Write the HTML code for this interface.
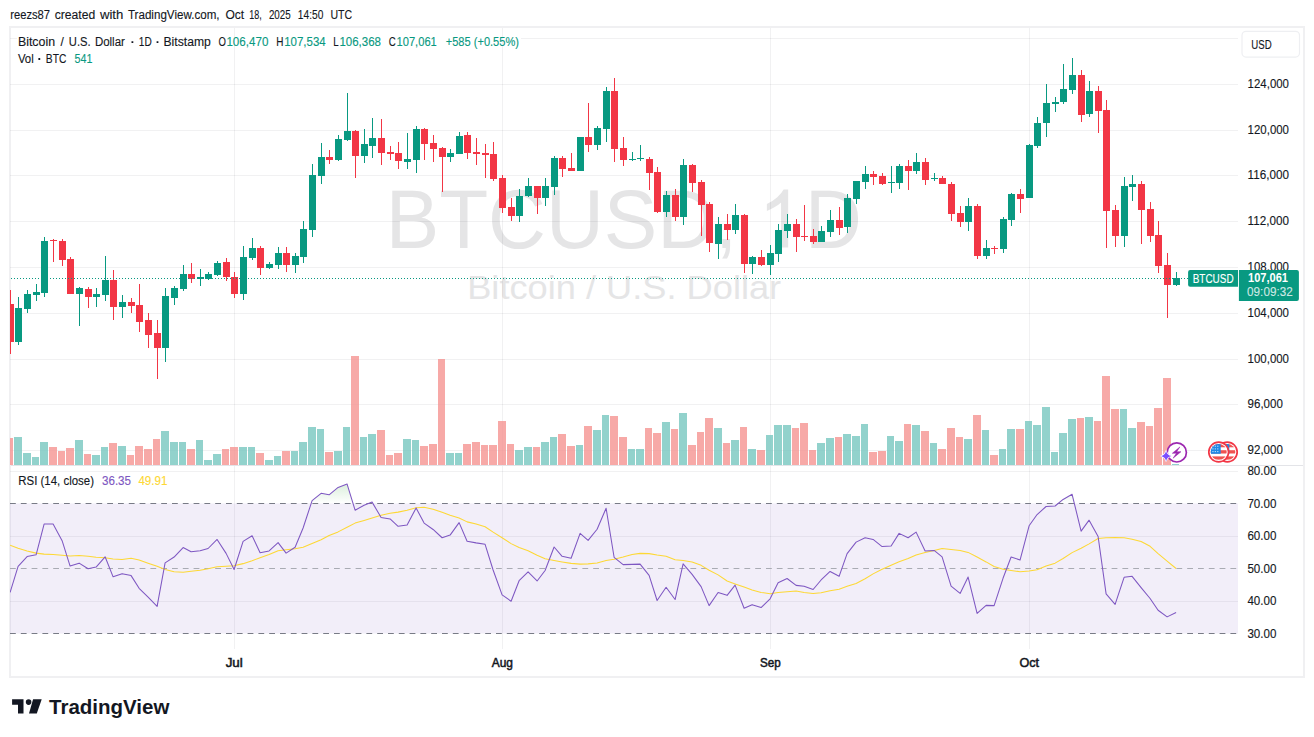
<!DOCTYPE html><html><head><meta charset="utf-8"><title>BTCUSD Chart</title><style>html,body{margin:0;padding:0;background:#fff;width:1314px;height:737px;overflow:hidden}</style></head><body><svg width="1314" height="737" viewBox="0 0 1314 737" style="position:absolute;left:0;top:0;font-family:'Liberation Sans',sans-serif">
<defs><clipPath id="pane"><rect x="10" y="28" width="1228" height="621"/></clipPath>
<clipPath id="ob"><rect x="10" y="465" width="1228" height="38.5"/></clipPath>
<linearGradient id="gob" gradientUnits="userSpaceOnUse" x1="0" y1="406" x2="0" y2="503.5"><stop offset="0" stop-color="#4caf50" stop-opacity="1"/><stop offset="1" stop-color="#4caf50" stop-opacity="0"/></linearGradient>
<clipPath id="fl"><circle cx="0" cy="0" r="8"/></clipPath>
</defs>
<rect width="1314" height="737" fill="#fff"/>
<rect x="10" y="27" width="1294" height="650" fill="none" stroke="#f0f0f2" stroke-width="2"/>
<text x="385.7" y="247.6" font-size="84" fill="#e5e5e6" textLength="351.7" lengthAdjust="spacingAndGlyphs">BTCUSD,</text>
<path transform="translate(758.1 247.6) scale(0.0394 -0.0394)" d="M763 0H583V1147Q518 1085 412.5 1023T223 930V1104Q374 1175 487 1276T647 1472H763z" fill="#e5e5e6"/>
<text x="804.9" y="247.6" font-size="84" fill="#e5e5e6" textLength="56.8" lengthAdjust="spacingAndGlyphs">D</text>
<text x="624.2" y="299.3" text-anchor="middle" font-size="33" fill="#e5e5e6" textLength="314" lengthAdjust="spacingAndGlyphs">Bitcoin / U.S. Dollar</text>
<path d="M10 38.5H17M521 38.5H1238M10 84.5H1238M10 130.5H1238M10 175.5H1238M10 221.5H1238M10 267.5H1238M10 313.5H1238M10 359.5H1238M10 404.5H1238M10 450.5H1238M10 471.5H1238M10 536.5H1238M10 601.5H1238M234.5 28V649M502.5 28V649M770.5 28V649M1029.5 28V649" stroke="rgba(42,46,57,0.065)" stroke-width="1" fill="none"/>
<rect x="10" y="503.5" width="1228" height="130" fill="rgba(126,87,194,0.1)"/>
<path d="M11 465.5H1303" stroke="#e3e4e8" stroke-width="1.1"/>
<g clip-path="url(#pane)">
<path d="M14 465V437H22V465zM23 465V453H31V465zM32 465V457H39V465zM40 465V442H48V465zM75 465V440H83V465zM92 465V455H100V465zM101 465V447H108V465zM118 465V446H126V465zM161 465V431H169V465zM170 465V442H178V465zM179 465V442H186V465zM196 465V440H203V465zM204 465V460H212V465zM213 465V454H221V465zM239 465V447H247V465zM248 465V447H255V465zM265 465V460H273V465zM274 465V456H281V465zM291 465V451H298V465zM299 465V442H307V465zM308 465V427H316V465zM317 465V429H324V465zM334 465V451H342V465zM343 465V427H350V465zM360 465V437H367V465zM368 465V434H376V465zM403 465V439H411V465zM412 465V440H419V465zM446 465V453H454V465zM455 465V453H462V465zM515 465V450H523V465zM524 465V447H532V465zM541 465V442H549V465zM550 465V437H557V465zM576 465V445H583V465zM593 465V430H601V465zM602 465V415H609V465zM628 465V449H635V465zM636 465V449H644V465zM662 465V422H670V465zM679 465V413H687V465zM714 465V428H722V465zM731 465V440H739V465zM748 465V449H756V465zM766 465V435H773V465zM774 465V425H782V465zM783 465V425H791V465zM817 465V443H825V465zM826 465V438H834V465zM843 465V434H851V465zM852 465V436H860V465zM861 465V424H868V465zM887 465V436H894V465zM895 465V441H903V465zM912 465V425H920V465zM930 465V443H937V465zM964 465V439H972V465zM982 465V430H989V465zM999 465V449H1006V465zM1007 465V429H1015V465zM1025 465V421H1032V465zM1033 465V425H1041V465zM1042 465V407H1050V465zM1051 465V452H1058V465zM1059 465V433H1067V465zM1068 465V419H1076V465zM1085 465V417H1093V465zM1120 465V409H1127V465zM1128 465V428H1136V465zM1172 465V464H1179V465z" fill="rgba(119,199,191,0.8)"/>
<path d="M6 465V438H13V465zM49 465V447H57V465zM58 465V451H65V465zM66 465V448H74V465zM84 465V454H91V465zM109 465V443H117V465zM127 465V455H134V465zM135 465V446H143V465zM144 465V449H152V465zM153 465V439H160V465zM187 465V449H195V465zM222 465V449H229V465zM230 465V447H238V465zM256 465V453H264V465zM282 465V451H290V465zM325 465V452H333V465zM351 465V356H359V465zM377 465V430H385V465zM386 465V455H393V465zM394 465V453H402V465zM420 465V446H428V465zM429 465V444H437V465zM438 465V359H445V465zM463 465V444H471V465zM472 465V442H480V465zM481 465V445H488V465zM489 465V445H497V465zM498 465V421H506V465zM507 465V444H514V465zM533 465V447H540V465zM558 465V434H566V465zM567 465V446H575V465zM584 465V426H592V465zM610 465V416H618V465zM619 465V437H627V465zM645 465V428H652V465zM653 465V433H661V465zM671 465V429H678V465zM688 465V445H696V465zM697 465V432H704V465zM705 465V418H713V465zM723 465V443H730V465zM740 465V427H747V465zM757 465V450H765V465zM792 465V428H799V465zM800 465V423H808V465zM809 465V450H816V465zM835 465V437H842V465zM869 465V452H877V465zM878 465V451H886V465zM904 465V424H911V465zM921 465V431H929V465zM938 465V449H946V465zM947 465V428H955V465zM956 465V437H963V465zM973 465V415H981V465zM990 465V455H998V465zM1016 465V429H1024V465zM1077 465V418H1084V465zM1094 465V421H1101V465zM1102 465V376H1110V465zM1111 465V409H1119V465zM1137 465V422H1145V465zM1146 465V426H1153V465zM1154 465V408H1162V465zM1163 465V378H1171V465z" fill="rgba(245,148,145,0.8)"/>
<path d="M18.5 297V345M27.5 290V313M36.5 284V301M44.5 237V297M79.5 287V326M96.5 288V307M105.5 256V301M122.5 295V318M165.5 288V362M174.5 286V305M183.5 265V291M200.5 269V286M208.5 272V280M217.5 261V276M243.5 246V300M252.5 238V260M269.5 262V269M278.5 247V269M295.5 253V273M303.5 221V263M312.5 164V237M321.5 143V184M338.5 135V161M347.5 93V141M364.5 129V163M372.5 118V158M407.5 133V169M416.5 126V173M450.5 149V162M459.5 132V154M519.5 189V222M528.5 178V197M545.5 178V206M554.5 156V195M580.5 137V171M597.5 126V150M606.5 87V142M632.5 152V161M640.5 145V161M666.5 191V217M683.5 159V225M718.5 217V259M735.5 204V234M752.5 256V274M770.5 245V275M778.5 224V262M787.5 214V238M821.5 226V242M830.5 210V237M847.5 194V233M856.5 181V204M865.5 166V189M891.5 166V193M899.5 164V189M916.5 153V174M934.5 173V181M968.5 198V231M986.5 240V259M1003.5 217V253M1011.5 193V226M1029.5 144V198M1037.5 117V148M1046.5 84V137M1055.5 97V112M1063.5 64V104M1072.5 58V94M1089.5 81V117M1124.5 177V247M1132.5 175V201M1176.5 272V286" stroke="#089981" stroke-width="1" fill="none"/>
<path d="M10.5 290V354M53.5 239V262M62.5 239V266M70.5 257V294M88.5 287V308M113.5 270V320M131.5 298V313M139.5 284V332M148.5 313V348M157.5 320V379M191.5 263V283M226.5 258V281M234.5 272V298M260.5 246V275M286.5 247V272M329.5 150V164M355.5 130V178M381.5 119V165M390.5 146V160M398.5 142V169M424.5 128V160M433.5 135V162M442.5 147V192M467.5 132V159M476.5 138V165M485.5 144V178M493.5 142V181M502.5 175V213M511.5 198V221M537.5 186V214M562.5 156V177M571.5 153V171M588.5 103V152M614.5 78V162M623.5 137V166M649.5 157V190M657.5 167V213M675.5 189V221M692.5 164V192M701.5 180V236M709.5 202V252M727.5 214V240M744.5 214V273M761.5 250V266M796.5 219V252M804.5 205V241M813.5 229V244M839.5 207V235M873.5 171V185M882.5 173V185M908.5 160V190M925.5 158V185M942.5 176V184M951.5 182V221M960.5 206V227M977.5 204V259M994.5 246V254M1020.5 189V213M1081.5 70V122M1098.5 86V133M1106.5 100V248M1115.5 205V247M1141.5 181V244M1150.5 202V242M1158.5 221V273M1167.5 253V318" stroke="#f23645" stroke-width="1" fill="none"/>
<path d="M15 308h7V342h-7zM24 294h7V309h-7zM33 292h7V295h-7zM41 241h7V293h-7zM76 288h7V294h-7zM93 294h7V297h-7zM102 280h7V295h-7zM119 302h7V307h-7zM162 296h7V348h-7zM171 288h7V298h-7zM180 274h7V289h-7zM197 277h7V279h-7zM205 274h7V279h-7zM214 263h7V275h-7zM240 257h7V294h-7zM249 248h7V258h-7zM266 264h7V268h-7zM275 253h7V265h-7zM292 256h7V265h-7zM300 229h7V257h-7zM309 175h7V230h-7zM318 157h7V176h-7zM335 139h7V160h-7zM344 131h7V140h-7zM361 144h7V156h-7zM369 138h7V146h-7zM404 159h7V162h-7zM413 129h7V160h-7zM447 153h7V157h-7zM456 136h7V154h-7zM516 196h7V216h-7zM525 186h7V196h-7zM542 186h7V198h-7zM551 158h7V187h-7zM577 137h7V171h-7zM594 128h7V145h-7zM603 91h7V129h-7zM629 159h7V160h-7zM637 158h7V159h-7zM663 195h7V212h-7zM680 165h7V217h-7zM715 224h7V244h-7zM732 215h7V230h-7zM749 257h7V264h-7zM767 253h7V265h-7zM775 230h7V254h-7zM784 224h7V231h-7zM818 231h7V242h-7zM827 220h7V232h-7zM844 198h7V227h-7zM853 181h7V199h-7zM862 174h7V182h-7zM888 182h7V183h-7zM896 166h7V183h-7zM913 162h7V171h-7zM931 178h7V179h-7zM965 206h7V222h-7zM983 248h7V256h-7zM1000 219h7V249h-7zM1008 194h7V220h-7zM1026 145h7V198h-7zM1034 123h7V146h-7zM1043 103h7V123h-7zM1052 102h7V104h-7zM1060 89h7V102h-7zM1069 75h7V90h-7zM1086 91h7V114h-7zM1121 186h7V236h-7zM1129 184h7V187h-7zM1173 278h7V285h-7z" fill="#089981"/>
<path d="M7 304h7V342h-7zM50 240h7V241h-7zM59 241h7V260h-7zM67 259h7V294h-7zM85 289h7V297h-7zM110 280h7V307h-7zM128 302h7V306h-7zM136 305h7V322h-7zM145 320h7V335h-7zM154 333h7V348h-7zM188 274h7V279h-7zM223 262h7V277h-7zM231 277h7V294h-7zM257 248h7V268h-7zM283 253h7V265h-7zM326 157h7V160h-7zM352 131h7V156h-7zM378 138h7V153h-7zM387 152h7V154h-7zM395 153h7V161h-7zM421 129h7V144h-7zM430 143h7V149h-7zM439 148h7V157h-7zM464 135h7V153h-7zM473 152h7V154h-7zM482 153h7V155h-7zM490 154h7V179h-7zM499 178h7V208h-7zM508 207h7V216h-7zM534 186h7V198h-7zM559 158h7V169h-7zM568 168h7V171h-7zM585 137h7V145h-7zM611 91h7V149h-7zM620 148h7V160h-7zM646 159h7V173h-7zM654 172h7V212h-7zM672 195h7V217h-7zM689 165h7V183h-7zM698 182h7V205h-7zM706 204h7V243h-7zM724 224h7V230h-7zM741 215h7V264h-7zM758 257h7V265h-7zM793 224h7V237h-7zM801 236h7V237h-7zM810 236h7V242h-7zM836 220h7V228h-7zM870 174h7V177h-7zM879 176h7V184h-7zM905 166h7V171h-7zM922 162h7V180h-7zM939 178h7V184h-7zM948 184h7V214h-7zM957 213h7V222h-7zM974 206h7V256h-7zM991 248h7V249h-7zM1017 194h7V199h-7zM1078 75h7V115h-7zM1095 91h7V111h-7zM1103 110h7V211h-7zM1112 210h7V236h-7zM1138 184h7V210h-7zM1147 209h7V236h-7zM1155 235h7V266h-7zM1164 265h7V285h-7z" fill="#f23645"/>
<path d="M10 278.5H1188" stroke="#089981" stroke-width="1" stroke-dasharray="1 2" stroke-dashoffset="-1" fill="none"/>
<path d="M10 503.5H1238M10 633.5H1238" stroke="#787b86" stroke-width="1" stroke-dasharray="5.8 5" fill="none"/>
<path d="M10 568.5H1238" stroke="#a9abb3" stroke-width="1" stroke-dasharray="5.8 5" fill="none"/>
<polygon clip-path="url(#ob)" points="1176.5,700 10.5,700 10.1,592.44 18.1,566.32 27.1,556.55 36.1,554.84 44.1,524.08 53.1,524.08 62.1,540.68 70.1,566.07 79.1,563.14 88.1,568.76 96.1,567.05 105.1,556.8 113.1,576.82 122.1,573.64 131.1,575.6 139.1,588.29 148.1,597.08 157.1,606.36 165.1,562.9 174.1,557.04 183.1,547.52 191.1,551.67 200.1,550.69 208.1,548.5 217.1,539.46 226.1,553.38 234.1,569.49 243.1,541.42 252.1,535.8 260.1,552.65 269.1,550.94 278.1,542.64 286.1,553.13 295.1,547.28 303.1,527.99 312.1,500.64 321.1,493.32 329.1,494.79 338.1,487.46 347.1,484.04 355.1,510.17 364.1,505.28 372.1,502.11 381.1,517.49 390.1,518.96 398.1,526.28 407.1,525.06 416.1,507.97 424.1,523.11 433.1,529.45 442.1,537.75 450.1,535.07 459.1,522.62 467.1,541.17 476.1,542.88 485.1,544.35 493.1,569.98 502.1,594.88 511.1,601.23 519.1,580.72 528.1,571.93 537.1,580.97 545.1,570.47 554.1,547.03 562.1,556.31 571.1,558.26 580.1,533.36 588.1,540.44 597.1,529.21 606.1,508.21 614.1,557.29 623.1,564.61 632.1,564.37 640.1,564.12 649.1,575.35 657.1,600.5 666.1,587.31 675.1,599.52 683.1,563.88 692.1,574.38 701.1,586.58 709.1,605.62 718.1,592.44 727.1,595.37 735.1,585.12 744.1,608.31 752.1,604.65 761.1,607.58 770.1,598.79 778.1,582.68 787.1,578.53 796.1,585.36 804.1,586.34 813.1,589.51 821.1,579.99 830.1,571.45 839.1,576.33 847.1,553.62 856.1,542.15 865.1,537.75 873.1,539.46 882.1,546.54 891.1,546.05 899.1,533.36 908.1,537.75 916.1,532.14 925.1,550.94 934.1,550.45 942.1,556.8 951.1,586.09 960.1,593.42 968.1,577.06 977.1,613.44 986.1,605.38 994.1,605.62 1003.1,578.04 1011.1,557.04 1020.1,559.97 1029.1,525.79 1037.1,514.56 1046.1,506.5 1055.1,506.02 1063.1,499.42 1072.1,494.3 1081.1,531.16 1089.1,520.18 1098.1,536.53 1106.1,593.91 1115.1,604.4 1124.1,577.3 1132.1,576.33 1141.1,587.56 1150.1,598.54 1158.1,610.26 1167.1,616.86 1176.1,612.46" fill="url(#gob)"/>
<polyline points="10.1,545.32 18.1,548.25 27.1,550.94 36.1,553.13 44.1,554.11 53.1,554.6 62.1,555.33 70.1,556.06 79.1,555.58 88.1,556.31 96.1,557.29 105.1,557.77 113.1,558.99 122.1,559.48 131.1,558.26 139.1,559.97 148.1,563.14 157.1,566.32 165.1,569.49 174.1,571.69 183.1,572.18 191.1,571.2 200.1,570.22 208.1,568.76 217.1,566.81 226.1,566.32 234.1,565.83 243.1,563.63 252.1,560.7 260.1,557.77 269.1,554.6 278.1,550.69 286.1,549.72 295.1,548.74 303.1,547.28 312.1,543.61 321.1,539.71 329.1,535.56 338.1,531.89 347.1,527.26 355.1,523.11 364.1,520.42 372.1,517.98 381.1,515.29 390.1,513.34 398.1,512.12 407.1,510.17 416.1,507.72 424.1,507.24 433.1,509.19 442.1,512.36 450.1,515.29 459.1,517.98 467.1,521.88 476.1,524.08 485.1,526.77 493.1,532.14 502.1,537.75 511.1,543.61 519.1,547.52 528.1,550.69 537.1,555.33 545.1,558.75 554.1,560.46 562.1,561.92 571.1,563.39 580.1,564.12 588.1,563.88 597.1,562.9 606.1,560.46 614.1,559.24 623.1,557.04 632.1,554.6 640.1,553.38 649.1,553.62 657.1,555.09 666.1,556.31 675.1,559.73 683.1,560.46 692.1,561.92 701.1,565.34 709.1,570.22 718.1,574.86 727.1,580.97 735.1,583.9 744.1,587.07 752.1,590 761.1,592.44 770.1,593.66 778.1,592.44 787.1,591.71 796.1,590.98 804.1,592.44 813.1,593.42 821.1,592.69 830.1,590.73 839.1,589.27 847.1,586.34 856.1,583.41 865.1,578.77 873.1,573.89 882.1,569.25 891.1,565.34 899.1,561.68 908.1,558.51 916.1,555.09 925.1,552.4 934.1,550.45 942.1,548.5 951.1,549.47 960.1,550.45 968.1,552.4 977.1,557.04 986.1,561.92 994.1,566.56 1003.1,569.25 1011.1,570.47 1020.1,571.69 1029.1,570.96 1037.1,569.74 1046.1,566.07 1055.1,563.14 1063.1,558.51 1072.1,552.65 1081.1,548.25 1089.1,543.86 1098.1,538.49 1106.1,537.75 1115.1,537.51 1124.1,537.75 1132.1,539.22 1141.1,541.42 1150.1,546.3 1158.1,553.62 1167.1,561.19 1176.1,568.52" fill="none" stroke="#fdd835" stroke-width="1.05" stroke-linejoin="round"/>
<polyline points="10.1,592.44 18.1,566.32 27.1,556.55 36.1,554.84 44.1,524.08 53.1,524.08 62.1,540.68 70.1,566.07 79.1,563.14 88.1,568.76 96.1,567.05 105.1,556.8 113.1,576.82 122.1,573.64 131.1,575.6 139.1,588.29 148.1,597.08 157.1,606.36 165.1,562.9 174.1,557.04 183.1,547.52 191.1,551.67 200.1,550.69 208.1,548.5 217.1,539.46 226.1,553.38 234.1,569.49 243.1,541.42 252.1,535.8 260.1,552.65 269.1,550.94 278.1,542.64 286.1,553.13 295.1,547.28 303.1,527.99 312.1,500.64 321.1,493.32 329.1,494.79 338.1,487.46 347.1,484.04 355.1,510.17 364.1,505.28 372.1,502.11 381.1,517.49 390.1,518.96 398.1,526.28 407.1,525.06 416.1,507.97 424.1,523.11 433.1,529.45 442.1,537.75 450.1,535.07 459.1,522.62 467.1,541.17 476.1,542.88 485.1,544.35 493.1,569.98 502.1,594.88 511.1,601.23 519.1,580.72 528.1,571.93 537.1,580.97 545.1,570.47 554.1,547.03 562.1,556.31 571.1,558.26 580.1,533.36 588.1,540.44 597.1,529.21 606.1,508.21 614.1,557.29 623.1,564.61 632.1,564.37 640.1,564.12 649.1,575.35 657.1,600.5 666.1,587.31 675.1,599.52 683.1,563.88 692.1,574.38 701.1,586.58 709.1,605.62 718.1,592.44 727.1,595.37 735.1,585.12 744.1,608.31 752.1,604.65 761.1,607.58 770.1,598.79 778.1,582.68 787.1,578.53 796.1,585.36 804.1,586.34 813.1,589.51 821.1,579.99 830.1,571.45 839.1,576.33 847.1,553.62 856.1,542.15 865.1,537.75 873.1,539.46 882.1,546.54 891.1,546.05 899.1,533.36 908.1,537.75 916.1,532.14 925.1,550.94 934.1,550.45 942.1,556.8 951.1,586.09 960.1,593.42 968.1,577.06 977.1,613.44 986.1,605.38 994.1,605.62 1003.1,578.04 1011.1,557.04 1020.1,559.97 1029.1,525.79 1037.1,514.56 1046.1,506.5 1055.1,506.02 1063.1,499.42 1072.1,494.3 1081.1,531.16 1089.1,520.18 1098.1,536.53 1106.1,593.91 1115.1,604.4 1124.1,577.3 1132.1,576.33 1141.1,587.56 1150.1,598.54 1158.1,610.26 1167.1,616.86 1176.1,612.46" fill="none" stroke="#7e57c2" stroke-width="1.05" stroke-linejoin="round"/>
</g>
<text x="10.2" y="18.9" font-size="12" fill="#131722" textLength="39.9" lengthAdjust="spacingAndGlyphs" stroke="#131722" stroke-width="0.12">reezs87</text>
<text x="54.7" y="18.9" font-size="12" fill="#131722" textLength="40.6" lengthAdjust="spacingAndGlyphs" stroke="#131722" stroke-width="0.12">created</text>
<text x="99.9" y="18.9" font-size="12" fill="#131722" textLength="23.4" lengthAdjust="spacingAndGlyphs" stroke="#131722" stroke-width="0.12">with</text>
<text x="127.9" y="18.9" font-size="12" fill="#131722" textLength="91.7" lengthAdjust="spacingAndGlyphs" stroke="#131722" stroke-width="0.12">TradingView.com,</text>
<text x="225.5" y="18.9" font-size="12" fill="#131722" textLength="18.7" lengthAdjust="spacingAndGlyphs" stroke="#131722" stroke-width="0.12">Oct</text>
<text x="249.3" y="18.9" font-size="12" fill="#131722" textLength="12.5" lengthAdjust="spacingAndGlyphs" stroke="#131722" stroke-width="0.12">18,</text>
<text x="268.9" y="18.9" font-size="12" fill="#131722" textLength="21.8" lengthAdjust="spacingAndGlyphs" stroke="#131722" stroke-width="0.12">2025</text>
<text x="297.8" y="18.9" font-size="12" fill="#131722" textLength="25.5" lengthAdjust="spacingAndGlyphs" stroke="#131722" stroke-width="0.12">14:50</text>
<text x="330.5" y="18.9" font-size="12" fill="#131722" textLength="21.7" lengthAdjust="spacingAndGlyphs" stroke="#131722" stroke-width="0.12">UTC</text>
<text x="17.9" y="45.9" font-size="12" fill="#131722" textLength="37.2" lengthAdjust="spacingAndGlyphs" stroke="#131722" stroke-width="0.12">Bitcoin</text>
<text x="68.8" y="45.9" font-size="12" fill="#131722" textLength="21.8" lengthAdjust="spacingAndGlyphs" stroke="#131722" stroke-width="0.12">U.S.</text>
<text x="94.9" y="45.9" font-size="12" fill="#131722" textLength="30" lengthAdjust="spacingAndGlyphs" stroke="#131722" stroke-width="0.12">Dollar</text>
<text x="138.8" y="45.9" font-size="12" fill="#131722" textLength="12.9" lengthAdjust="spacingAndGlyphs" stroke="#131722" stroke-width="0.12">1D</text>
<text x="163.5" y="45.9" font-size="12" fill="#131722" textLength="47.3" lengthAdjust="spacingAndGlyphs" stroke="#131722" stroke-width="0.12">Bitstamp</text>
<text x="60.4" y="45.9" font-size="12" fill="#131722" stroke="#131722" stroke-width="0.12">/</text>
<path d="M131.5 41.3h1.8v1.8h-1.8zM156.6 41.3h1.8v1.8h-1.8zM38.4 58.1h1.8v1.8h-1.8z" fill="#131722"/>
<text x="218.4" y="45.9" font-size="12" fill="#131722" textLength="7.4" lengthAdjust="spacingAndGlyphs" stroke="#131722" stroke-width="0.12">O</text>
<text x="226.4" y="45.9" font-size="12" fill="#089981" textLength="42" lengthAdjust="spacingAndGlyphs" stroke="#089981" stroke-width="0.12">106,470</text>
<text x="276.2" y="45.9" font-size="12" fill="#131722" textLength="7.2" lengthAdjust="spacingAndGlyphs" stroke="#131722" stroke-width="0.12">H</text>
<text x="284.2" y="45.9" font-size="12" fill="#089981" textLength="41.5" lengthAdjust="spacingAndGlyphs" stroke="#089981" stroke-width="0.12">107,534</text>
<text x="333.2" y="45.9" font-size="12" fill="#131722" textLength="5.4" lengthAdjust="spacingAndGlyphs" stroke="#131722" stroke-width="0.12">L</text>
<text x="339.4" y="45.9" font-size="12" fill="#089981" textLength="41.6" lengthAdjust="spacingAndGlyphs" stroke="#089981" stroke-width="0.12">106,368</text>
<text x="388.7" y="45.9" font-size="12" fill="#131722" textLength="7" lengthAdjust="spacingAndGlyphs" stroke="#131722" stroke-width="0.12">C</text>
<text x="396.5" y="45.9" font-size="12" fill="#089981" textLength="40.3" lengthAdjust="spacingAndGlyphs" stroke="#089981" stroke-width="0.12">107,061</text>
<text x="445.7" y="45.9" font-size="12" fill="#089981" textLength="73.3" lengthAdjust="spacingAndGlyphs" stroke="#089981" stroke-width="0.12">+585 (+0.55%)</text>
<text x="17.9" y="62.8" font-size="12" fill="#131722" textLength="15.8" lengthAdjust="spacingAndGlyphs" stroke="#131722" stroke-width="0.12">Vol</text>
<text x="45.8" y="62.8" font-size="12" fill="#131722" textLength="20.5" lengthAdjust="spacingAndGlyphs" stroke="#131722" stroke-width="0.12">BTC</text>
<text x="74.6" y="62.8" font-size="12" fill="#089981" textLength="17.9" lengthAdjust="spacingAndGlyphs" stroke="#089981" stroke-width="0.12">541</text>
<text x="18.3" y="485.2" font-size="12" fill="#131722" textLength="75.7" lengthAdjust="spacingAndGlyphs" stroke="#131722" stroke-width="0.12">RSI (14, close)</text>
<text x="102" y="485.2" font-size="12" fill="#7e57c2" textLength="29" lengthAdjust="spacingAndGlyphs" stroke="#7e57c2" stroke-width="0.12">36.35</text>
<text x="138.4" y="485.2" font-size="12" fill="#fdd835" textLength="29.1" lengthAdjust="spacingAndGlyphs" stroke="#fdd835" stroke-width="0.12">49.91</text>
<text x="1247.6" y="87.8" font-size="12" fill="#131722" textLength="41.4" lengthAdjust="spacingAndGlyphs" stroke="#131722" stroke-width="0.12">124,000</text>
<text x="1247.6" y="133.8" font-size="12" fill="#131722" textLength="41.4" lengthAdjust="spacingAndGlyphs" stroke="#131722" stroke-width="0.12">120,000</text>
<text x="1247.6" y="178.8" font-size="12" fill="#131722" textLength="41.4" lengthAdjust="spacingAndGlyphs" stroke="#131722" stroke-width="0.12">116,000</text>
<text x="1247.6" y="224.8" font-size="12" fill="#131722" textLength="41.4" lengthAdjust="spacingAndGlyphs" stroke="#131722" stroke-width="0.12">112,000</text>
<text x="1247.6" y="270.8" font-size="12" fill="#131722" textLength="41.4" lengthAdjust="spacingAndGlyphs" stroke="#131722" stroke-width="0.12">108,000</text>
<text x="1247.6" y="316.8" font-size="12" fill="#131722" textLength="41.4" lengthAdjust="spacingAndGlyphs" stroke="#131722" stroke-width="0.12">104,000</text>
<text x="1247.6" y="362.8" font-size="12" fill="#131722" textLength="41.4" lengthAdjust="spacingAndGlyphs" stroke="#131722" stroke-width="0.12">100,000</text>
<text x="1247.6" y="407.8" font-size="12" fill="#131722" textLength="35.2" lengthAdjust="spacingAndGlyphs" stroke="#131722" stroke-width="0.12">96,000</text>
<text x="1247.6" y="453.8" font-size="12" fill="#131722" textLength="35.2" lengthAdjust="spacingAndGlyphs" stroke="#131722" stroke-width="0.12">92,000</text>
<text x="1247.4" y="475" font-size="12" fill="#131722" textLength="29" lengthAdjust="spacingAndGlyphs" stroke="#131722" stroke-width="0.12">80.00</text>
<text x="1247.4" y="508" font-size="12" fill="#131722" textLength="29" lengthAdjust="spacingAndGlyphs" stroke="#131722" stroke-width="0.12">70.00</text>
<text x="1247.4" y="539.9" font-size="12" fill="#131722" textLength="29" lengthAdjust="spacingAndGlyphs" stroke="#131722" stroke-width="0.12">60.00</text>
<text x="1247.4" y="572.6" font-size="12" fill="#131722" textLength="29" lengthAdjust="spacingAndGlyphs" stroke="#131722" stroke-width="0.12">50.00</text>
<text x="1247.4" y="604.9" font-size="12" fill="#131722" textLength="29" lengthAdjust="spacingAndGlyphs" stroke="#131722" stroke-width="0.12">40.00</text>
<text x="1247.4" y="637.7" font-size="12" fill="#131722" textLength="29" lengthAdjust="spacingAndGlyphs" stroke="#131722" stroke-width="0.12">30.00</text>
<rect x="1242" y="31.3" width="57.5" height="25.8" rx="4" fill="#fff" stroke="#eeeff2" stroke-width="1.2"/>
<text x="1251.3" y="48.7" font-size="12" fill="#131722" textLength="20.4" lengthAdjust="spacingAndGlyphs" stroke="#131722" stroke-width="0.12">USD</text>
<path d="M1190.1 270H1238V286.8H1190.1a2 2 0 0 1-2-2V272a2 2 0 0 1 2-2z" fill="#089981"/>
<text x="1192.7" y="282.5" font-size="12" fill="#fff" textLength="40.9" lengthAdjust="spacingAndGlyphs" stroke="#fff" stroke-width="0.12">BTCUSD</text>
<path d="M1238.9 270H1296.9a2 2 0 0 1 2 2V298.9a2 2 0 0 1-2 2H1238.9z" fill="#089981"/>
<text x="1248" y="281.6" font-size="12" fill="#fff" textLength="40" lengthAdjust="spacingAndGlyphs" font-weight="bold">107,061</text>
<text x="1247.1" y="295.5" font-size="12" fill="rgba(255,255,255,0.78)" textLength="45.6" lengthAdjust="spacingAndGlyphs" stroke="rgba(255,255,255,0.78)" stroke-width="0.12">09:09:32</text>
<g><circle cx="1176.8" cy="452.4" r="9.6" fill="#fff" stroke="#9c27b0" stroke-width="1.7"/><path d="M1179.9 446.9L1172.3 453.3H1176.4L1173.1 458.2L1181 451.7H1176.7z" fill="#9c27b0" stroke="#9c27b0" stroke-width="0.5" stroke-linejoin="round"/><path d="M1166.1 450.7q0.8 4.5 5.3 5.3q-4.5 0.8-5.3 5.3q-0.8-4.5-5.3-5.3q4.5-0.8 5.3-5.3z" fill="#7c4dff" stroke="#fff" stroke-width="1.3" paint-order="stroke"/></g>
<g transform="translate(1227.3 452)"><circle r="9.9" fill="#fff" stroke="#f23645" stroke-width="1.7"/><g clip-path="url(#fl)"><rect x="-9" y="-9" width="18" height="18" fill="#fff"/><rect x="-9" y="-8.0" width="18" height="3.3" fill="#ef5350"/><rect x="-9" y="-1.8" width="18" height="3.3" fill="#ef5350"/><rect x="-9" y="4.4" width="18" height="3.3" fill="#ef5350"/><rect x="-9" y="-9" width="11" height="10.8" fill="#1e88e5"/><rect x="-6.4" y="-6.3" width="1.3" height="1" fill="#bbdefb"/><rect x="-4.0" y="-6.3" width="1.3" height="1" fill="#bbdefb"/><rect x="-1.6" y="-6.3" width="1.3" height="1" fill="#bbdefb"/><rect x="-6.4" y="-3.6" width="1.3" height="1" fill="#bbdefb"/><rect x="-4.0" y="-3.6" width="1.3" height="1" fill="#bbdefb"/><rect x="-1.6" y="-3.6" width="1.3" height="1" fill="#bbdefb"/><rect x="-6.4" y="-0.9" width="1.3" height="1" fill="#bbdefb"/><rect x="-4.0" y="-0.9" width="1.3" height="1" fill="#bbdefb"/><rect x="-1.6" y="-0.9" width="1.3" height="1" fill="#bbdefb"/></g></g>
<g transform="translate(1218.7 452)"><circle r="9.9" fill="#fff" stroke="#f23645" stroke-width="1.7"/><g clip-path="url(#fl)"><rect x="-9" y="-9" width="18" height="18" fill="#fff"/><rect x="-9" y="-8.0" width="18" height="3.3" fill="#ef5350"/><rect x="-9" y="-1.8" width="18" height="3.3" fill="#ef5350"/><rect x="-9" y="4.4" width="18" height="3.3" fill="#ef5350"/><rect x="-9" y="-9" width="11" height="10.8" fill="#1e88e5"/><rect x="-6.4" y="-6.3" width="1.3" height="1" fill="#bbdefb"/><rect x="-4.0" y="-6.3" width="1.3" height="1" fill="#bbdefb"/><rect x="-1.6" y="-6.3" width="1.3" height="1" fill="#bbdefb"/><rect x="-6.4" y="-3.6" width="1.3" height="1" fill="#bbdefb"/><rect x="-4.0" y="-3.6" width="1.3" height="1" fill="#bbdefb"/><rect x="-1.6" y="-3.6" width="1.3" height="1" fill="#bbdefb"/><rect x="-6.4" y="-0.9" width="1.3" height="1" fill="#bbdefb"/><rect x="-4.0" y="-0.9" width="1.3" height="1" fill="#bbdefb"/><rect x="-1.6" y="-0.9" width="1.3" height="1" fill="#bbdefb"/></g></g>
<text x="225.65" y="666.9" font-size="12" fill="#131722" textLength="17.1" lengthAdjust="spacingAndGlyphs" stroke="#131722" stroke-width="0.5">Jul</text>
<text x="491.7" y="666.9" font-size="12" fill="#131722" textLength="21.2" lengthAdjust="spacingAndGlyphs" stroke="#131722" stroke-width="0.5">Aug</text>
<text x="760.05" y="666.9" font-size="12" fill="#131722" textLength="20.7" lengthAdjust="spacingAndGlyphs" stroke="#131722" stroke-width="0.5">Sep</text>
<text x="1019.4" y="666.9" font-size="12" fill="#131722" textLength="19.6" lengthAdjust="spacingAndGlyphs" stroke="#131722" stroke-width="0.5">Oct</text>
<path d="M12.1 699.3H23.5V713.6H18V704.8H12.1z" fill="#131722"/><circle cx="28.6" cy="702.1" r="2.8" fill="#131722"/><path d="M33.1 699.3H41.7L36.8 713.6H29z" fill="#131722"/>
<text x="49.1" y="713.6" font-size="19.6" fill="#131722" textLength="120.3" lengthAdjust="spacingAndGlyphs" font-weight="bold">TradingView</text>
</svg></body></html>
